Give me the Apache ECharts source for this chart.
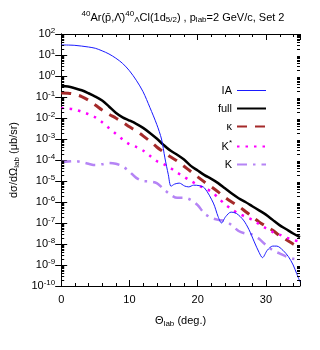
<!DOCTYPE html>
<html><head><meta charset="utf-8">
<script src="https://cdn.jsdelivr.net/npm/echarts@6/dist/echarts.min.js"></script>
<style>html,body{margin:0;padding:0;background:#fff}#c{width:320px;height:350px}</style>
</head><body><div id="c"></div>
<script>
// Data (theta in deg., cross section in microbarn/sr)
const thetaIA = [0,2,4,5,6,7,8,9,10,11,12,13,14,14.7,15.2,15.7,16.1,16.6,17.3,18.1,18.7,19.4,20.2,21,22.3,23,23.5,24.1,24.9,25.7,26.7,27.5,28.3,29.0,29.5,30.2,31.0,31.6,32.5,33.3,34,34.5,35];
const valIA = [30.2,28.8,24.0,20.9,15.8,11.2,7.08,3.98,1.78,0.631,0.178,0.0316,5.01e-3,1e-3,1.26e-4,2.0e-5,5.62e-6,7.08e-6,7.94e-6,5.75e-6,5.25e-6,6.31e-6,6.03e-6,4.68e-6,8.91e-7,2.0e-7,1.0e-7,2.0e-7,3.31e-7,2.82e-7,1.38e-7,5.01e-8,1.26e-8,3.98e-9,2.24e-9,5.01e-9,7.94e-9,7.94e-9,5.01e-9,2.51e-9,1e-9,3.98e-10,1.58e-10];
const theta = [0,1,2,3,4,5,6,7,8,9,10,11,12,13,14,15,16,17,18,19,20,21,22,23,24,25,26,27,28,29,30,31,32,33,34,35];
const valFull = [0.331,0.316,0.263,0.209,0.151,0.105,0.0676,0.0355,0.0178,0.0107,7.59e-3,5.25e-3,3.39e-3,1.95e-3,1.05e-3,5.25e-4,2.82e-4,1.78e-4,1.05e-4,5.25e-5,3.16e-5,1.91e-5,1.26e-5,7.94e-6,4.47e-6,2.51e-6,1.51e-6,1.0e-6,6.31e-7,3.98e-7,2.51e-7,1.41e-7,7.94e-8,5.01e-8,3.16e-8,2.14e-8];
const valKappa = [0.155,0.151,0.135,0.105,0.0708,0.0417,0.0240,0.0151,0.01,6.31e-3,3.80e-3,2.40e-3,1.41e-3,7.94e-4,4.17e-4,2.40e-4,1.41e-4,8.91e-5,5.01e-5,2.82e-5,1.58e-5,8.91e-6,5.25e-6,3.02e-6,1.66e-6,1.0e-6,6.31e-7,3.55e-7,2.0e-7,1.12e-7,7.08e-8,4.47e-8,2.51e-8,1.58e-8,1.0e-8,6.46e-9];
const valKstar = [0.0302,0.0282,0.0251,0.0200,0.0151,0.0107,6.31e-3,3.31e-3,1.78e-3,9.55e-4,5.62e-4,4.17e-4,2.82e-4,1.58e-4,8.91e-5,6.31e-5,4.17e-5,2.51e-5,1.58e-5,1.0e-5,6.61e-6,4.47e-6,3.16e-6,1.58e-6,7.94e-7,4.47e-7,2.82e-7,2.0e-7,1.41e-7,8.91e-8,5.62e-8,3.72e-8,2.82e-8,2.0e-8,1.58e-8,1.26e-8];
const valK = [7.94e-5,8.51e-5,8.91e-5,7.94e-5,6.61e-5,5.75e-5,6.31e-5,7.24e-5,6.61e-5,5.01e-5,2.82e-5,1.41e-5,1.0e-5,9.55e-6,7.94e-6,4.17e-6,2.24e-6,1.58e-6,1.58e-6,1.26e-6,7.08e-7,2.82e-7,1.78e-7,1.41e-7,1.26e-7,7.94e-8,4.17e-8,3.16e-8,2.82e-8,1.78e-8,8.91e-9,5.01e-9,3.55e-9,2.51e-9,2.0e-9,1.78e-9];
const seriesNames = ['IA','full','κ','K*','K'];
const xTickLabels = ['0','10','20','30'];

const FONT = 'Liberation Sans, Arial, sans-serif';
function pairs(xs, ys){ return xs.map((x,i)=>[x, ys[i]]); }

// minor tick positions (axis decoration, derived from axis ranges)
const yMinor = [];
for (let e = -10; e < 2; e++) for (let k = 2; k <= 9; k++) yMinor.push([0, k * Math.pow(10, e)]);
const xMinor = [];
for (let t = 2; t <= 34; t += 2) if (t % 10 !== 0) xMinor.push([t, 1]);

const chart = echarts.init(document.getElementById('c'), null, {renderer:'canvas'});
const tickStyle = {color:'#000', width:1};
const option = {
  animation:false,
  title:{
    text:'{s|40}Ar(p̄,Λ̄){s|40}{b|Λ}Cl(1d{b|5/2}) , p{b|lab}=2 GeV/c, Set 2',
    left:178, top:5, textAlign:'center',
    textStyle:{fontFamily:FONT, fontSize:11, fontWeight:'normal', color:'#000',
      rich:{s:{fontSize:8, fontFamily:FONT, padding:[0,0,7,0], verticalAlign:'bottom'},
            b:{fontSize:8, fontFamily:FONT, padding:[6,0,0,0], verticalAlign:'top'}}}
  },
  grid:{left:56, right:20, top:34, bottom:64},
  legend:{
    orient:'vertical', right:48, top:80, align:'right', itemWidth:29, itemHeight:10, itemGap:7,
    data:seriesNames.map(n => n === 'IA' ? {name:n, lineStyle:{width:1}} : {name:n}),
    itemStyle:{opacity:0},
    formatter:function(n){ return n==='K*' ? 'K{s|*}' : n; },
    textStyle:{fontFamily:FONT, fontSize:11, color:'#000',
      rich:{s:{fontSize:8, fontFamily:FONT, padding:[0,0,7,0], verticalAlign:'bottom'}}}
  },
  xAxis:[{
    type:'value', min:0, max:35, interval:10, position:'bottom',
    name:'Θ{b|lab} (deg.)', nameLocation:'middle', nameGap:28,
    nameTextStyle:{fontFamily:FONT, fontSize:11, color:'#000', rich:{b:{fontSize:8, fontFamily:FONT, padding:[6,0,0,0], verticalAlign:'top'}}},
    axisLine:{show:true, lineStyle:{color:'#000', width:1}},
    axisTick:{show:true, inside:true, length:6, lineStyle:tickStyle},
    splitLine:{show:false},
    axisLabel:{fontFamily:FONT, fontSize:11, color:'#000', margin:8,
      formatter:function(v){ const s=String(v); return xTickLabels.indexOf(s)>=0 ? s : ''; }}
  },{
    type:'value', min:0, max:35, interval:10, position:'top',
    axisLine:{show:true, lineStyle:{color:'#000', width:1}},
    axisTick:{show:true, inside:true, length:6, lineStyle:tickStyle},
    splitLine:{show:false}, axisLabel:{show:false}
  }],
  yAxis:[{
    type:'log', logBase:10, min:1e-10, max:100, interval:1, position:'left',
    name:'dσ/dΩ{b|lab} (μb/sr)', nameLocation:'middle', nameGap:38, nameRotate:90,
    nameTextStyle:{fontFamily:FONT, fontSize:11, color:'#000', rich:{b:{fontSize:8, fontFamily:FONT, padding:[6,0,0,0], verticalAlign:'top'}}},
    axisLine:{show:true, lineStyle:{color:'#000', width:1}},
    axisTick:{show:true, inside:true, length:6, lineStyle:tickStyle},
    splitLine:{show:false},
    axisLabel:{fontFamily:FONT, fontSize:11, color:'#000', margin:6,
      formatter:function(v){ return '10{s|'+Math.round(Math.log10(v))+'}'; },
      rich:{s:{fontSize:8, fontFamily:FONT, padding:[0,0,7,0], verticalAlign:'bottom'}}}
  },{
    type:'log', logBase:10, min:1e-10, max:100, interval:1, position:'right',
    axisLine:{show:true, lineStyle:{color:'#000', width:1}},
    axisTick:{show:true, inside:true, length:6, lineStyle:tickStyle},
    splitLine:{show:false}, axisLabel:{show:false}
  }],
  series:[
    {name:'IA', type:'line', data:pairs(thetaIA,valIA), symbol:'none', smooth:0.3,
      lineStyle:{color:'#1a1aff', width:1}, itemStyle:{color:'#1a1aff'}, z:5},
    {name:'full', type:'line', data:pairs(theta,valFull), symbol:'none', smooth:0.3,
      lineStyle:{color:'#000', width:2.5}, itemStyle:{color:'#000'}, z:4},
    {name:'κ', type:'line', data:pairs(theta,valKappa), symbol:'none', smooth:0.3,
      lineStyle:{color:'#a52a2a', width:3, type:[10,8]}, itemStyle:{color:'#a52a2a'}, z:3},
    {name:'K*', type:'line', data:pairs(theta,valKstar), symbol:'none', smooth:0.3,
      lineStyle:{color:'#ff00ff', width:2.5, type:[2.5,6]}, itemStyle:{color:'#ff00ff'}, z:3},
    {name:'K', type:'line', data:pairs(theta,valK), symbol:'none', smooth:0.3,
      lineStyle:{color:'#b584f5', width:2.5, type:[10,6,2.5,6]}, itemStyle:{color:'#b584f5'}, z:3},
    {name:'yMinorTicks', type:'custom', data:yMinor, silent:true, clip:false, z:6,
      renderItem:function(params, api){
        const cs = params.coordSys;
        const y = Math.round(api.coord([0, api.value(1)])[1]) + 0.5;
        return {type:'group', children:[
          {type:'line', shape:{x1:cs.x, y1:y, x2:cs.x+3, y2:y}, style:{stroke:'#000', lineWidth:1}},
          {type:'line', shape:{x1:cs.x+cs.width-3, y1:y, x2:cs.x+cs.width, y2:y}, style:{stroke:'#000', lineWidth:1}}
        ]};
      }},
    {name:'xMinorTicks', type:'custom', data:xMinor, silent:true, clip:false, z:6,
      renderItem:function(params, api){
        const cs = params.coordSys;
        const x = Math.round(api.coord([api.value(0), 1])[0]) + 0.5;
        return {type:'group', children:[
          {type:'line', shape:{x1:x, y1:cs.y+cs.height, x2:x, y2:cs.y+cs.height-3}, style:{stroke:'#000', lineWidth:1}},
          {type:'line', shape:{x1:x, y1:cs.y, x2:x, y2:cs.y+3}, style:{stroke:'#000', lineWidth:1}}
        ]};
      }}
  ]
};
chart.setOption(option);
</script></body></html>
